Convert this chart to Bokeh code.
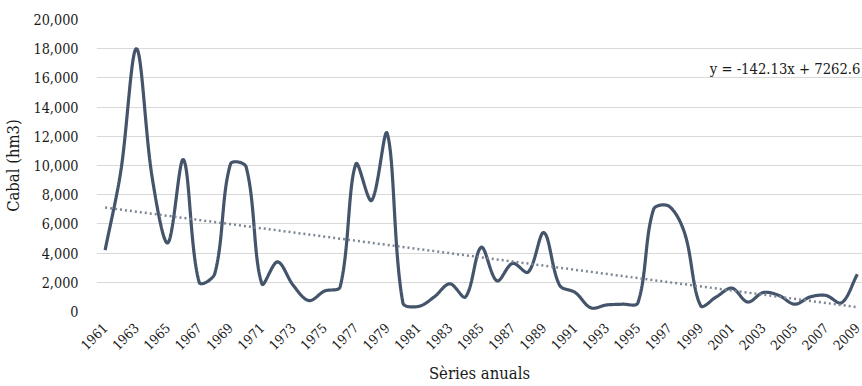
import numpy as np
from bokeh.plotting import figure
from bokeh.models import FixedTicker, NumeralTickFormatter, Label, ColumnDataSource
from bokeh.embed import file_html
from bokeh.resources import INLINE

years = list(range(1961, 2010))
cabal = [4200, 9600, 18000, 9200, 4700, 10400, 2000, 2600, 10100, 9900,
         1900, 3400, 1800, 750, 1400, 1700, 10100, 7600, 12200, 600,
         350, 1000, 1900, 1000, 4400, 2100, 3300, 2700, 5400, 1800,
         1300, 250, 450, 500, 600, 7000, 7200, 5300, 400, 1000,
         1600, 650, 1300, 1100, 500, 1000, 1100, 600, 2550]
trend_slope = -142.13
trend_intercept = 7262.6
trend_label = "y = -142.13x + 7262.6"
y_ticks = list(range(0, 20001, 2000))
x_ticks = list(range(1961, 2010, 2))

FONT = "DejaVu Serif Condensed"

PX_PER_YEAR = 15.69
PX_PER_UNIT = 0.0146

def smooth(xs, ys, n=30):
    xs = np.asarray(xs, float); ys = np.asarray(ys, float)
    X = xs * PX_PER_YEAR; Y = ys * PX_PER_UNIT
    PX = np.concatenate([[X[0]], X, [X[-1]]])
    PY = np.concatenate([[Y[0]], Y, [Y[-1]]])
    ox, oy = [], []
    t = np.linspace(0, 1, n, endpoint=False)
    dist = lambda a, b: np.hypot(PX[a] - PX[b], PY[a] - PY[b])
    for i in range(1, len(PX) - 2):
        d01 = dist(i - 1, i); d12 = dist(i, i + 1); d23 = dist(i + 1, i + 2)
        f1 = d12 / (d01 + d12) / 3 if (d01 + d12) > 0 else 0
        f2 = d12 / (d12 + d23) / 3 if (d12 + d23) > 0 else 0
        c1x = PX[i] + (PX[i+1] - PX[i-1]) * f1
        c1y = PY[i] + (PY[i+1] - PY[i-1]) * f1
        c2x = PX[i+1] - (PX[i+2] - PX[i]) * f2
        c2y = PY[i+1] - (PY[i+2] - PY[i]) * f2
        b0 = (1-t)**3; b1 = 3*(1-t)**2*t; b2 = 3*(1-t)*t**2; b3 = t**3
        ox.extend(b0*PX[i] + b1*c1x + b2*c2x + b3*PX[i+1])
        oy.extend(b0*PY[i] + b1*c1y + b2*c2y + b3*PY[i+1])
    ox.append(X[-1]); oy.append(Y[-1])
    return list(np.array(ox) / PX_PER_YEAR), list(np.array(oy) / PX_PER_UNIT)

sx, sy = smooth(years, cabal)

p = figure(width=862, height=386, output_backend="svg", toolbar_location=None,
           x_range=(1960.45, 2009.33), y_range=(0, 20000),
           min_border_left=95, min_border_right=0, min_border_top=19,
           min_border_bottom=0)
p.outline_line_color = None
p.background_fill_color = "white"
p.border_fill_color = "white"

src = ColumnDataSource(dict(x=sx, y=sy))
p.line("x", "y", source=src, line_color="#44546a", line_width=3.2)

idx = np.arange(1, len(years) + 1)
tx = [years[0], years[-1]]
ty = [trend_slope * idx[0] + trend_intercept, trend_slope * idx[-1] + trend_intercept]
p.line(tx, ty, line_color="#7d8794", line_width=2.5, line_dash="2 3")

p.add_layout(Label(x=2009.2, y=16650, text=trend_label,
                   text_font=FONT, text_font_size="14.7px", text_color="#1a1a1a",
                   text_align="right", text_baseline="middle"))

p.xgrid.grid_line_color = None
p.ygrid.grid_line_color = "#d9d9d9"
p.ygrid.grid_line_width = 1
p.yaxis.ticker = FixedTicker(ticks=y_ticks)
p.yaxis.formatter = NumeralTickFormatter(format="0,0")
p.xaxis.ticker = FixedTicker(ticks=x_ticks)
for ax in (p.xaxis, p.yaxis):
    ax.axis_line_color = None
    ax.major_tick_line_color = None
    ax.minor_tick_line_color = None
    ax.major_label_text_font = FONT
    ax.major_label_text_color = "#1a1a1a"
    ax.axis_label_text_font = FONT
    ax.axis_label_text_font_style = "normal"
    ax.axis_label_text_color = "#1a1a1a"
    ax.axis_label_text_font_size = "16.5px"
p.yaxis.major_label_text_font_size = "14.3px"
p.yaxis.major_label_standoff = 12
p.yaxis.axis_label = "Cabal (hm3)"
p.yaxis.axis_label_standoff = 8
p.xaxis.major_label_text_font_size = "13.5px"
p.xaxis.major_label_orientation = np.pi / 4
p.xaxis.major_label_standoff = 8
p.xaxis.axis_label = "Sèries anuals"
p.xaxis.axis_label_standoff = 7

open("out.html", "w").write(file_html(p, INLINE))
